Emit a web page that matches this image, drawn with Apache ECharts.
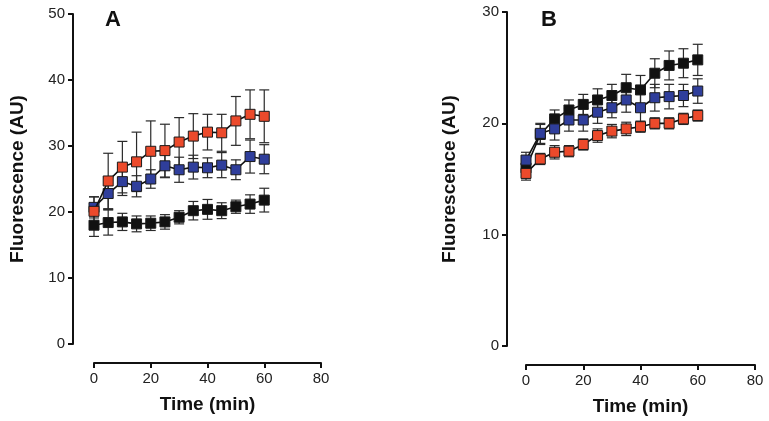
<!DOCTYPE html>
<html><head><meta charset="utf-8">
<script src="https://cdn.jsdelivr.net/npm/echarts@6/dist/echarts.min.js"></script>
<style>html,body{margin:0;padding:0;background:#fff}#c{width:769px;height:421px}</style>
</head><body><div id="c"></div>
<script>
var times = [0,5,10,15,20,25,30,35,40,45,50,55,60];
// Panel A
var aRed = [20.1,24.7,26.8,27.6,29.2,29.3,30.6,31.5,32.1,32.0,33.8,34.8,34.5];
var aRedErr = [2.2,4.2,3.9,4.5,4.6,4.0,3.7,3.4,2.7,2.8,3.7,3.7,4.0];
var aBlue = [20.7,22.8,24.6,23.9,25.0,27.0,26.4,26.8,26.7,27.1,26.4,28.4,28.0];
var aBlueErr = [1.6,2.4,2.1,1.6,1.4,1.8,1.9,1.8,1.5,1.9,1.5,2.5,2.2];
var aBlack = [18.0,18.4,18.5,18.2,18.3,18.5,19.2,20.2,20.4,20.2,20.8,21.2,21.8];
var aBlackErr = [1.7,1.9,1.3,1.2,1.1,1.1,1.0,1.4,1.5,1.2,1.0,1.4,1.8];
// Panel B
var bBlack = [16.0,19.0,20.4,21.2,21.7,22.1,22.5,23.2,23.0,24.5,25.2,25.4,25.7];
var bBlackErr = [0.6,0.9,0.8,0.9,0.9,1.0,1.0,1.2,1.3,1.3,1.3,1.3,1.4];
var bBlue = [16.7,19.1,19.5,20.3,20.3,21.0,21.4,22.1,21.4,22.3,22.4,22.5,22.9];
var bBlueErr = [0.7,0.9,1.0,1.0,1.0,1.0,0.9,1.1,1.3,1.2,1.1,1.0,1.1];
var bRed = [15.5,16.8,17.4,17.5,18.1,18.9,19.3,19.5,19.7,20.0,20.0,20.4,20.7];
var bRedErr = [0.6,0.5,0.6,0.5,0.5,0.6,0.6,0.6,0.5,0.5,0.5,0.5,0.5];

var xTicks = [0,20,40,60,80];
var COL = {red:'#ec4a2b', blue:'#2f3e9b', black:'#111111'};

function pts(v){ return times.map(function(t,i){ return [t, v[i]]; }); }
function errPts(v,e){ return times.map(function(t,i){ return [t, v[i]-e[i], v[i]+e[i]]; }); }

function errSeries(v,e,idx){
  return {
    type:'custom', xAxisIndex:idx, yAxisIndex:idx, z:1,
    data: errPts(v,e), silent:true,
    renderItem: function(params, api){
      var x = api.value(0);
      var lo = api.coord([x, api.value(1)]);
      var hi = api.coord([x, api.value(2)]);
      var w = 5;
      var st = {stroke:'#2a2a2a', lineWidth:1.2};
      return {type:'group', children:[
        {type:'line', shape:{x1:lo[0],y1:lo[1],x2:hi[0],y2:hi[1]}, style:st},
        {type:'line', shape:{x1:lo[0]-w,y1:lo[1],x2:lo[0]+w,y2:lo[1]}, style:st},
        {type:'line', shape:{x1:hi[0]-w,y1:hi[1],x2:hi[0]+w,y2:hi[1]}, style:st}
      ]};
    }
  };
}
function lineSeries(v,color,idx,size,z){
  return {
    type:'line', xAxisIndex:idx, yAxisIndex:idx, z:z,
    data: pts(v), symbol:'rect', symbolSize:size, showSymbol:true,
    lineStyle:{color:'#111', width:1.6},
    itemStyle:{color:color, borderColor:'#1a1a1a', borderWidth:1},
    animation:false
  };
}

var FF = 'Liberation Sans, Arial, sans-serif';
var axisLbl = {color:'#222', fontSize:15, fontFamily:FF};
var nameSt = {color:'#111', fontSize:19, fontWeight:'bold', fontFamily:FF};
function xAx(idx, off){
  return {type:'value', gridIndex:idx, min:0, max:80, interval:20, offset:off,
    name:'Time (min)', nameLocation:'middle', nameGap:32, nameTextStyle:nameSt,
    axisLine:{show:true, onZero:false, lineStyle:{color:'#111', width:2}},
    axisTick:{show:true, length:5, lineStyle:{color:'#111', width:2}},
    axisLabel:axisLbl, splitLine:{show:false}};
}
function yAx(idx, max, off, gap){
  return {type:'value', gridIndex:idx, min:0, max:max, interval:10, offset:off,
    name:'Fluorescence (AU)', nameLocation:'middle', nameGap:gap, nameTextStyle:nameSt,
    axisLine:{show:true, onZero:false, lineStyle:{color:'#111', width:2}},
    axisTick:{show:true, length:5, lineStyle:{color:'#111', width:2}},
    axisLabel:axisLbl, splitLine:{show:false}};
}

var chart = echarts.init(document.getElementById('c'), null, {renderer:'canvas'});
chart.setOption({
  animation:false,
  backgroundColor:'#ffffff',
  title:[
    {text:'A', left:100, top:4, textStyle:{fontSize:22, fontWeight:'bold', color:'#111', fontFamily:FF}},
    {text:'B', left:536, top:4, textStyle:{fontSize:22, fontWeight:'bold', color:'#111', fontFamily:FF}}
  ],
  grid:[
    {left:94, right:448, top:14, bottom:77},
    {left:526, right:14, top:12, bottom:75}
  ],
  xAxis:[xAx(0,19), xAx(1,19)],
  yAxis:[yAx(0,50,21,46), yAx(1,30,19,48)],
  series:[
    errSeries(aBlack,aBlackErr,0), errSeries(aBlue,aBlueErr,0), errSeries(aRed,aRedErr,0),
    lineSeries(aBlack,COL.black,0,10,3), lineSeries(aBlue,COL.blue,0,10,4), lineSeries(aRed,COL.red,0,10,5),
    errSeries(bBlack,bBlackErr,1), errSeries(bBlue,bBlueErr,1), errSeries(bRed,bRedErr,1),
    lineSeries(bBlack,COL.black,1,10,3), lineSeries(bBlue,COL.blue,1,10,4), lineSeries(bRed,COL.red,1,10,5)
  ]
});
</script>
</body></html>
